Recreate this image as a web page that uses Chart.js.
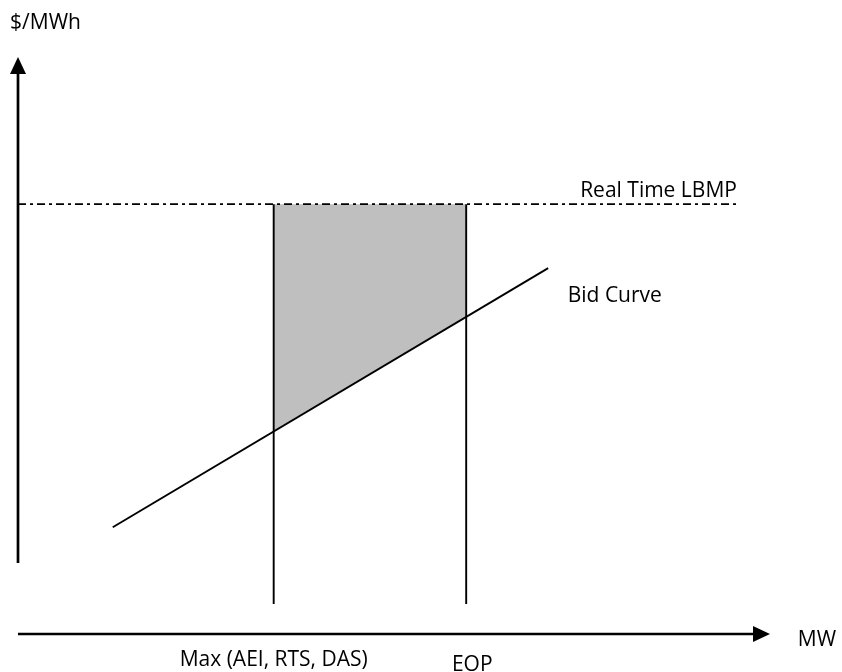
<!DOCTYPE html>
<html lang="en">
<head>
    <meta charset="UTF-8">
    <title>Bid Curve vs Real Time LBMP</title>
    <script src="https://cdn.jsdelivr.net/npm/chart.js"></script>
    <style>
        body { margin: 0; background: #fff; }
        canvas { display: block; }
    </style>
</head>
<body>
    <canvas id="bidChart" width="842" height="672"></canvas>

    <script>
        const maxMW = 34.0;          // Max (AEI, RTS, DAS)
        const eopMW = 59.6;          // EOP
        const lbmpPrice = 74.5;      // Real Time LBMP
        const lbmpEndMW = 95.6;
        const bidMW = [12.6, 70.5];
        const bidPrice = [18.5, 63.4];
        const shadeLow = [35.2, 55.0];   // bas de la zone grise (sur la courbe)
        const vLineBottom = 5.2;
        const yAxisRange = [12.3, 100];
        const xAxisRange = [0, 100];

        const labelTexts = ['$/MWh', 'Real Time LBMP', 'Bid Curve', 'Max (AEI, RTS, DAS)', 'EOP', 'MW'];
        const labelAnchors = [
            { x: -1.06, y: 104.85, align: 'left' },
            { x: 95.6, y: 75.74, align: 'right' },
            { x: 73.1, y: 57.5, align: 'left' },
            { x: 34.0, y: -5.55, align: 'center' },
            { x: 60.4, y: -6.41, align: 'center' },
            { x: 103.7, y: -2.08, align: 'left' }
        ];

        const ctx = document.getElementById('bidChart').getContext('2d');

        // petites fonctions pour les lignes
        function line(points, extra) {
            return Object.assign({
                data: points,
                showLine: true,
                borderColor: '#000',
                borderWidth: 1.9,
                pointRadius: 0,
                fill: false,
                tension: 0
            }, extra || {});
        }

        const arrowPlugin = {
            id: 'arrows',
            afterDatasetsDraw(chart) {
                const c = chart.ctx;
                const xs = chart.scales.x, ys = chart.scales.y;
                c.save();
                c.fillStyle = '#000';
                // fleche verticale
                let tx = xs.getPixelForValue(0), ty = ys.getPixelForValue(yAxisRange[1]);
                c.beginPath();
                c.moveTo(tx, ty);
                c.lineTo(tx - 8, ty + 17);
                c.lineTo(tx + 8, ty + 17);
                c.closePath();
                c.fill();
                // fleche horizontale
                tx = xs.getPixelForValue(xAxisRange[1]); ty = ys.getPixelForValue(0);
                c.beginPath();
                c.moveTo(tx, ty);
                c.lineTo(tx - 17, ty - 8);
                c.lineTo(tx - 17, ty + 8);
                c.closePath();
                c.fill();

                // textes
                c.font = '21px "Open Sans"';
                c.fillStyle = '#000';
                c.textBaseline = 'alphabetic';
                labelTexts.forEach((t, i) => {
                    const a = labelAnchors[i];
                    c.textAlign = a.align;
                    c.fillText(t, xs.getPixelForValue(a.x), ys.getPixelForValue(a.y));
                });
                c.restore();
            }
        };

        const chart = new Chart(ctx, {
            type: 'scatter',
            data: {
                datasets: [
                    // axes
                    line([{ x: 0, y: yAxisRange[0] }, { x: 0, y: yAxisRange[1] - 2.8 }], { borderWidth: 2.7 }),
                    line([{ x: xAxisRange[0], y: 0 }, { x: xAxisRange[1] - 2.2, y: 0 }], { borderWidth: 2.7 }),
                    // courbe d'offre
                    line([{ x: bidMW[0], y: bidPrice[0] }, { x: bidMW[1], y: bidPrice[1] }]),
                    // verticales Max et EOP
                    line([{ x: maxMW, y: lbmpPrice }, { x: maxMW, y: vLineBottom }]),
                    line([{ x: eopMW, y: lbmpPrice }, { x: eopMW, y: vLineBottom }]),
                    // LBMP temps reel
                    line([{ x: 0, y: lbmpPrice }, { x: lbmpEndMW, y: lbmpPrice }], { borderDash: [8, 4, 3, 4], borderWidth: 1.7 }),
                    // zone grise
                    line([
                        { x: maxMW, y: lbmpPrice },
                        { x: eopMW, y: lbmpPrice },
                        { x: eopMW, y: shadeLow[1] },
                        { x: maxMW, y: shadeLow[0] },
                        { x: maxMW, y: lbmpPrice }
                    ], { borderWidth: 0, borderColor: 'rgba(0,0,0,0)', backgroundColor: '#BFBFBF', fill: 'shape', order: 10 })
                ]
            },
            options: {
                responsive: false,
                animation: false,
                layout: { padding: 0 },
                plugins: {
                    legend: { display: false },
                    tooltip: { enabled: false }
                },
                scales: {
                    x: { type: 'linear', display: false, min: -2.394, max: 109.574 },
                    y: { type: 'linear', display: false, min: -6.586, max: 109.879 }
                }
            },
            plugins: [arrowPlugin]
        });
    </script>
</body>
</html>
